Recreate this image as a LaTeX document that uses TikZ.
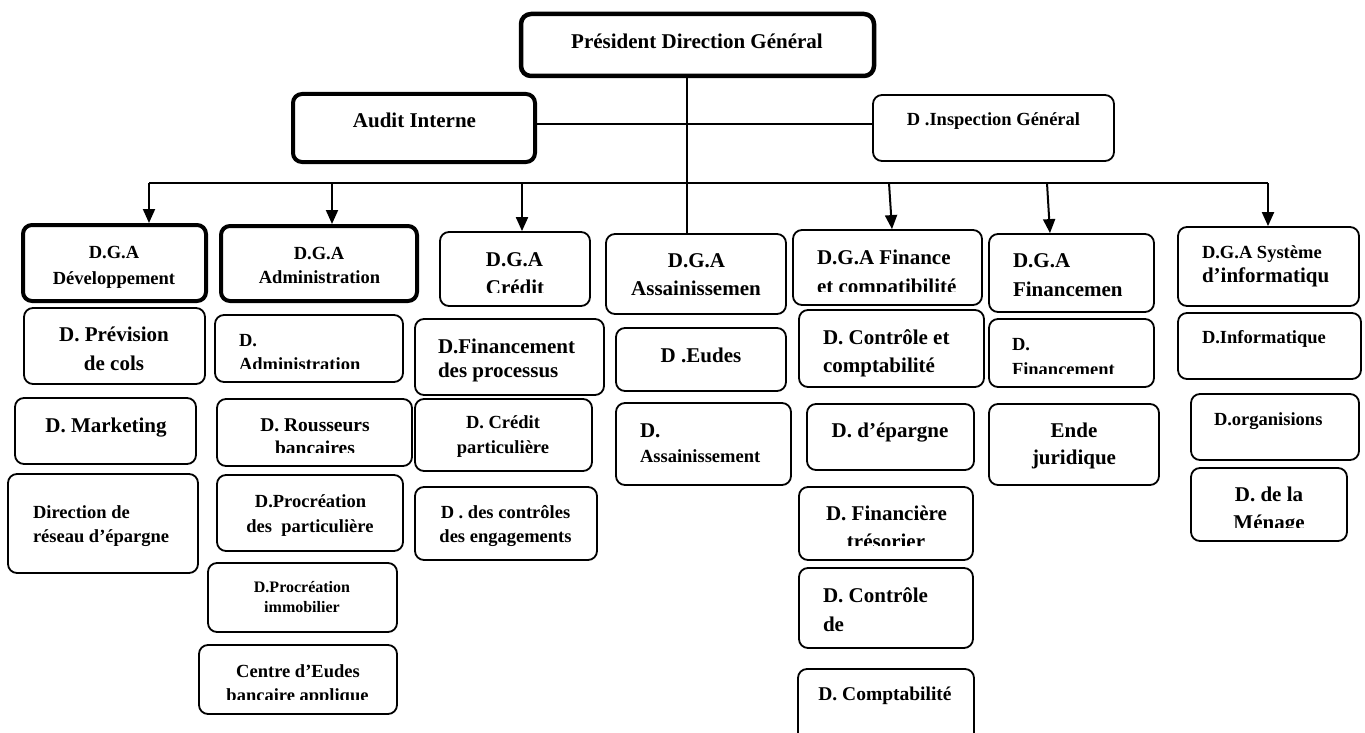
\documentclass[tikz,border=0pt]{standalone}
\usepackage{fontspec}
\setmainfont{Liberation Serif}
\usetikzlibrary{arrows.meta,calc}
\newcommand\mybox[6][]{%
  \pgfmathsetmacro\bcx{(#3+#5)/2}\pgfmathsetmacro\bcy{(#4+#6)/2}%
  \pgfmathsetmacro\bww{#5-#3-2}\pgfmathsetmacro\bhh{#6-#4-2}%
  \node[box,#1,minimum width=\bww pt,minimum height=\bhh pt] (#2) at (\bcx,\bcy) {};}
\tikzset{
  box/.style={draw, line width=1.8pt, rounded corners=9pt, inner sep=0pt},
  heavy/.style={line width=4pt},
  txt/.style={inner sep=0pt, outer sep=0pt},
  fa/.style={txt, font=\fontsize{21}{24}\selectfont\bfseries},
  fb/.style={txt, font=\fontsize{18.5}{22}\selectfont\bfseries},
  fc/.style={txt, font=\fontsize{16}{19}\selectfont\bfseries},
  fd/.style={txt, font=\fontsize{19.5}{22}\selectfont\bfseries},
  conn/.style={line width=1.4pt},
  arr/.style={line width=2pt, -{Triangle[width=12pt,length=14pt]}},
}
\begin{document}
\begin{tikzpicture}[x=1pt,y=-1pt]
\useasboundingbox (0,0) rectangle (1365,733);
\clip (0,0) rectangle (1365,733);
% top
\mybox[line width=4.5pt,rounded corners=10pt]{pres}{520}{13}{875}{77}
\node[fa,anchor=base] (pres-t) at (697,49) {Président Direction Général};
\mybox[heavy]{audit}{292}{93}{536}{163}
\node[fa,anchor=base] (audit-t) at (414.5,128) {Audit Interne};
\mybox{insp}{872}{94}{1115}{162}
\node[fb,anchor=base] (insp-t) at (993.5,125) {D .Inspection Général};
% column 1
\mybox[heavy]{dev}{22}{224}{207}{302}
\node[fb,anchor=base] (dev-t1) at (114,258) {D.G.A};
\node[fb,anchor=base] (dev-t2) at (114,284) {Développement};
\mybox{prev}{23}{307}{206}{385}
\node[fa,anchor=base] (prev-t1) at (114,341) {D. Prévision};
\node[fa,anchor=base] (prev-t2) at (114,370) {de cols};
\mybox{mkt}{14}{397}{197}{465}
\node[fa,anchor=base] (mkt-t) at (106,432) {D. Marketing};
\mybox{res}{7}{473}{199}{574}
\node[fb,anchor=base west] (res-t1) at (33,518) {Direction de};
\node[fb,anchor=base west] (res-t2) at (33,542) {réseau d’épargne};
% column 2
\mybox[heavy]{adm}{220}{225}{418}{302}
\node[fb,anchor=base] (adm-t1) at (319,259) {D.G.A};
\node[fb,anchor=base] (adm-t2) at (319.5,283) {Administration};
\mybox{dadm}{214}{314}{404}{383}
\node[fb,anchor=base west] (dadm-t1) at (239,346) {D.};
\begin{scope}
\clip (214,314) rectangle (404,368);
\node[fb,anchor=base west] (dadm-t2) at (239,370) {Administration};
\end{scope}
\mybox{rous}{216}{398}{413}{467}
\node[fd,anchor=base] (rous-t1) at (315,431) {D. Rousseurs};
\begin{scope}
\clip (216,398) rectangle (413,452.5);
\node[fd,anchor=base] (rous-t2) at (315,454) {bancaires};
\end{scope}
\mybox{procp}{216}{474}{404}{552}
\node[fb,anchor=base] (procp-t1) at (310.5,507) {D.Procréation};
\node[fb,anchor=base] (procp-t2) at (310,532) {des\ \ particulière};
\mybox{proci}{207}{562}{398}{633}
\node[fc,anchor=base] (proci-t1) at (302,592) {D.Procréation};
\node[fc,anchor=base] (proci-t2) at (302,612) {immobilier};
\mybox{centre}{198}{644}{398}{715}
\node[fb,anchor=base] (centre-t1) at (298,677) {Centre d’Eudes};
\begin{scope}
\clip (198,644) rectangle (398,699);
\node[fb,anchor=base] (centre-t2) at (297.5,701) {bancaire applique};
\end{scope}
% column 3
\mybox{cred}{439}{231}{591}{307}
\node[fa,anchor=base] (cred-t1) at (514.5,266) {D.G.A};
\begin{scope}
\clip (439,231) rectangle (591,292);
\node[fa,anchor=base] (cred-t2) at (515,294) {Crédit};
\end{scope}
\mybox{dfin}{414}{318}{605}{396}
\node[fa,anchor=base west] (dfin-t1) at (438,353) {D.Financement};
\node[fa,anchor=base west] (dfin-t2) at (438,377) {des processus};
\mybox{dcred}{414}{398}{593}{472}
\node[fb,anchor=base] (dcred-t1) at (503,428) {D. Crédit};
\node[fb,anchor=base] (dcred-t2) at (503,453) {particulière};
\mybox{dctrl}{414}{486}{598}{561}
\node[fb,anchor=base] (dctrl-t1) at (505.5,518) {D . des contrôles};
\node[fb,anchor=base] (dctrl-t2) at (505.5,542) {des engagements};
% column 4
\mybox{assa}{605}{233}{787}{315}
\node[fa,anchor=base] (assa-t1) at (696.5,267) {D.G.A};
\node[fa,anchor=base] (assa-t2) at (696,295) {Assainissemen};
\mybox{eudes}{615}{327}{787}{392}
\node[fa,anchor=base] (eudes-t) at (701,362) {D .Eudes};
\mybox{dassa}{615}{402}{792}{486}
\node[fa,anchor=base west] (dassa-t1) at (640,437) {D.};
\node[fb,anchor=base west] (dassa-t2) at (640,462) {Assainissement};
% column 5
\mybox{fin}{792}{229}{983}{306}
\node[fa,anchor=base west] (fin-t1) at (817,264) {D.G.A Finance};
\begin{scope}
\clip (792,229) rectangle (983,291);
\node[fa,anchor=base west] (fin-t2) at (817,293) {et compatibilité};
\end{scope}
\mybox{ctrlc}{798}{309}{985}{388}
\node[fa,anchor=base west] (ctrlc-t1) at (823,344) {D. Contrôle et};
\node[fa,anchor=base west] (ctrlc-t2) at (823,372) {comptabilité};
\mybox{epar}{806}{403}{975}{471}
\node[fa,anchor=base] (epar-t) at (890,437) {D. d’épargne};
\mybox{tres}{798}{486}{974}{561}
\node[fa,anchor=base] (tres-t1) at (886.5,520) {D. Financière};
\begin{scope}
\clip (798,486) rectangle (974,545);
\node[fa,anchor=base] (tres-t2) at (886,548) {trésorier};
\end{scope}
\mybox{ctrld}{798}{567}{974}{649}
\node[fa,anchor=base west] (ctrld-t1) at (823,602) {D. Contrôle};
\node[fa,anchor=base west] (ctrld-t2) at (823,631) {de};
\mybox{compt}{797}{668}{975}{770}
\node[fd,anchor=base] (compt-t) at (885,700) {D. Comptabilité};
% column 6
\mybox{fnc}{988}{233}{1155}{313}
\node[fa,anchor=base west] (fnc-t1) at (1013,267) {D.G.A};
\node[fa,anchor=base west] (fnc-t2) at (1013,296) {Financemen};
\mybox{dfnc}{988}{318}{1155}{388}
\node[fb,anchor=base west] (dfnc-t1) at (1012,350) {D.};
\begin{scope}
\clip (988,318) rectangle (1155,373);
\node[fb,anchor=base west] (dfnc-t2) at (1012,375) {Financement};
\end{scope}
\mybox{ende}{988}{403}{1160}{486}
\node[fa,anchor=base] (ende-t1) at (1074,437) {Ende};
\node[fa,anchor=base] (ende-t2) at (1074,464) {juridique};
% column 7
\mybox{sys}{1177}{226}{1360}{307}
\node[fb,anchor=base west] (sys-t1) at (1202,258) {D.G.A Système};
\node[fa,anchor=base west] (sys-t2) at (1202,282) {d’informatiqu};
\mybox{info}{1177}{312}{1362}{380}
\node[fb,anchor=base west] (info-t) at (1202,343) {D.Informatique};
\mybox{org}{1190}{393}{1360}{461}
\node[fb,anchor=base west] (org-t) at (1214,425) {D.organisions};
\mybox{men}{1190}{467}{1348}{542}
\node[fa,anchor=base] (men-t1) at (1269,501) {D. de la};
\begin{scope}
\clip (1190,467) rectangle (1348,527);
\node[fa,anchor=base] (men-t2) at (1269,529) {Ménage};
\end{scope}
% connectors
\coordinate (vx) at (687,0);
\draw[conn] (vx |- pres.south) -- (vx |- assa.north);
\draw[conn] ([yshift=4pt]audit.east) -- ([yshift=4pt]insp.west);
\coordinate (b1) at (149,183);
\coordinate (b2) at (332,183);
\coordinate (b3) at (522,183);
\coordinate (b4) at (889,183);
\coordinate (b5) at (1047,183);
\coordinate (b6) at (1268,183);
\draw[conn] (b1) -- (b6);
\draw[arr] (b1) -- (b1 |- dev.north);
\draw[arr] (b2) -- (b2 |- adm.north);
\draw[arr] (b3) -- (b3 |- cred.north);
\draw[arr] (b4) -- ($(b4 |- fin.north)+(3,0)$);
\draw[arr] (b5) -- ($(b5 |- fnc.north)+(3,0)$);
\draw[arr] (b6) -- (b6 |- sys.north);
\end{tikzpicture}
\end{document}
